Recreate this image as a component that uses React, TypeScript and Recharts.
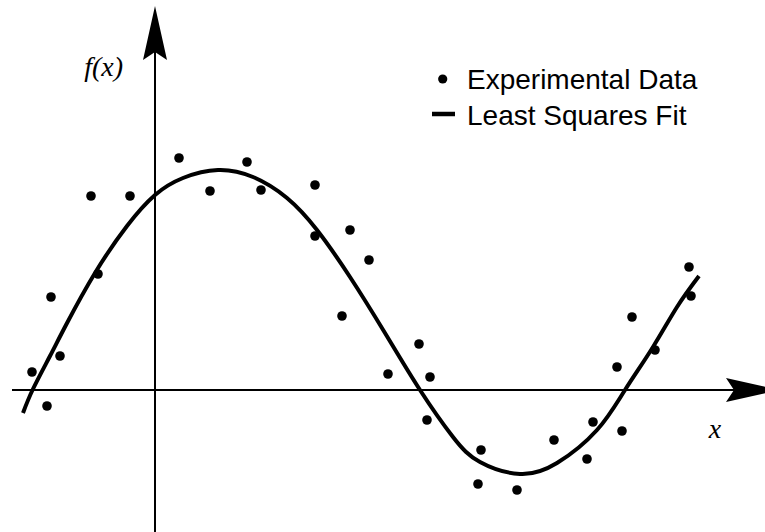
import React from 'react';
import { ComposedChart, Scatter, Line, XAxis, YAxis, ReferenceLine, ReferenceDot, Legend } from 'recharts';

const dataX = [-1.23, -1.08, -1.04, -0.95, -0.64, -0.57, -0.25, 0.24, 0.55, 0.92, 1.06, 1.6, 1.6, 1.95, 1.87, 2.14, 2.33, 2.64, 2.75, 2.72, 3.26, 3.23, 3.62, 3.99, 4.32, 4.38, 4.62, 4.67, 4.77, 5.0, 5.34, 5.36];
const dataY = [0.18, -0.16, 0.93, 0.34, 1.94, 1.16, 1.94, 2.32, 1.99, 2.28, 2.0, 2.05, 1.54, 1.6, 0.74, 1.3, 0.16, 0.46, 0.13, -0.3, -0.6, -0.94, -1.0, -0.5, -0.69, -0.32, 0.23, -0.41, 0.73, 0.4, 1.23, 0.94];

// Least squares fit curve
const fitX = [-1.32, -1.22, -1.05, -0.89, -0.6, -0.28, 0, 0.28, 0.63, 0.98, 1.32, 1.62, 1.95, 2.3, 2.65, 2.98, 3.25, 3.65, 4.02, 4.42, 4.7, 4.98, 5.22, 5.44];
const fitY = [-0.23, 0.01, 0.34, 0.65, 1.17, 1.64, 1.95, 2.12, 2.2, 2.13, 1.92, 1.6, 1.13, 0.57, 0.0, -0.47, -0.72, -0.84, -0.73, -0.4, 0.0, 0.43, 0.83, 1.14];

const xDomain: [number, number] = [-1.55, 6.1];
const yDomain: [number, number] = [-1.42, 3.9];

const seriesNames = ['Experimental Data', 'Least Squares Fit'];
const axisLabels = { y: 'f(x)', x: 'x' };

const points = dataX.map((x, i) => ({ x, y: dataY[i] }));
const fit = fitX.map((x, i) => ({ x, y: fitY[i] }));

const serif = "'Liberation Serif', 'Times New Roman', serif";
const sans = "'Liberation Sans', Arial, sans-serif";

const ArrowUp = (p: any) => {
  const { cx, cy } = p;
  return <path d={`M${cx},${cy} L${cx + 12},${cy + 54} L${cx},${cy + 46} L${cx - 12},${cy + 54} Z`} fill="#000" />;
};
const ArrowRight = (p: any) => {
  const { cx, cy } = p;
  return <path d={`M${cx},${cy} L${cx - 54},${cy - 12} L${cx - 46},${cy} L${cx - 54},${cy + 12} Z`} fill="#000" />;
};
const makeText = (text: string, anchor: 'start' | 'middle' | 'end') => (p: any) => (
  <text x={p.cx} y={p.cy} textAnchor={anchor} fontFamily={serif} fontStyle="italic" fontSize={28} fill="#000">
    {text}
  </text>
);

const Dot = (p: any) => <circle cx={p.cx} cy={p.cy} r={4.8} fill="#000" />;

const rowBase = [34, 70];
const LegendContent = (props: any) => {
  const items = (props.payload ?? []).slice().sort((a: any, b: any) => seriesNames.indexOf(a.value) - seriesNames.indexOf(b.value));
  return (
    <svg width={320} height={85} style={{ display: 'block' }}>
      {items.map((it: any, i: number) => {
        const base = rowBase[i] ?? 34 + i * 36;
        return (
          <g key={it.value}>
            {it.type === 'line' ? (
              <line x1={12} x2={35} y1={base - 11} y2={base - 11} stroke="#000" strokeWidth={4.5} />
            ) : (
              <circle cx={22.7} cy={base - 10} r={4.6} fill="#000" />
            )}
            <text x={47} y={base} fontFamily={sans} fontSize={28} fill="#000">
              {it.value}
            </text>
          </g>
        );
      })}
    </svg>
  );
};

export default function App() {
  return (
    <div style={{ position: 'absolute', left: 0, top: 0, background: '#fff' }}>
      <ComposedChart width={765} height={532} margin={{ top: 0, right: 0, bottom: 0, left: 0 }}>
        <XAxis type="number" dataKey="x" domain={xDomain} hide allowDataOverflow />
        <YAxis type="number" dataKey="y" domain={yDomain} hide allowDataOverflow />
        <ReferenceLine segment={[{ x: -1.43, y: 0 }, { x: 6.1, y: 0 }]} stroke="#000" strokeWidth={2} ifOverflow="visible" />
        <ReferenceLine segment={[{ x: 0, y: -1.42 }, { x: 0, y: 3.7 }]} stroke="#000" strokeWidth={2} ifOverflow="visible" />
        <ReferenceDot x={0} y={3.84} shape={ArrowUp} ifOverflow="visible" />
        <ReferenceDot x={6.25} y={0} shape={ArrowRight} ifOverflow="visible" />
        <ReferenceDot x={-0.32} y={3.14} shape={makeText(axisLabels.y, 'end')} ifOverflow="visible" />
        <ReferenceDot x={5.6} y={-0.48} shape={makeText(axisLabels.x, 'middle')} ifOverflow="visible" />
        <Scatter name={seriesNames[0]} data={points} fill="#000" shape={Dot} legendType="circle" isAnimationActive={false} />
        <Line name={seriesNames[1]} data={fit} dataKey="y" type="natural" stroke="#000" strokeWidth={4} dot={false} activeDot={false} legendType="line" isAnimationActive={false} />
        <Legend layout="vertical" align="center" verticalAlign="middle" wrapperStyle={{ left: 420, top: 55, width: 320, height: 85 }} content={LegendContent} />
      </ComposedChart>
    </div>
  );
}
